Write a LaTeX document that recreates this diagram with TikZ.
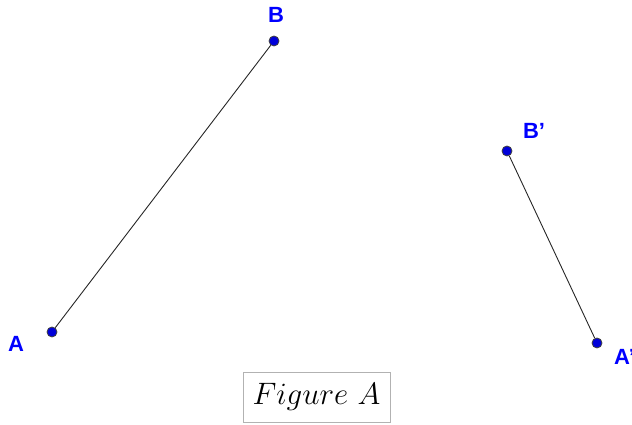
\RequirePackage{fix-cm}
\documentclass[tikz,border=0pt]{standalone}
\usepackage{amsmath}
\usepackage{amssymb}
\usepackage{fontspec}
\setsansfont{Liberation Sans}
\usepackage{tikz}
\usepackage{xcolor}

\begin{document}
\begin{tikzpicture}[x=1pt, y=1pt,
  pt/.style={circle, fill=blue!85!black, draw=black!75, line width=0.8pt, inner sep=0pt, minimum size=10pt},
  lbl/.style={text=blue, font=\sffamily\bfseries\fontsize{22}{24}\selectfont, inner sep=0pt}]
\clip (0,0) rectangle (632,425);
\node[pt] (A) at (52,93) {};
\node[pt] (B) at (274,384) {};
\node[pt] (Bp) at (507,274) {};
\node[pt] (Ap) at (597,82) {};
\draw[line width=0.9pt, black!85] (A) -- (B);
\draw[line width=0.9pt, black!85] (Bp) -- (Ap);
\node[lbl] (lA) at (16,81) {A};
\node[lbl] (lB) at (276,410) {B};
\node[lbl] (lBp) at (534,294) {B'};
\node[lbl] (lAp) at (624.5,68) {A'};
\node[rectangle, draw=black!30, line width=0.8pt, minimum width=147pt, minimum height=50pt, inner sep=0pt, font=\fontsize{31}{36}\selectfont] (cap) at (316.5,28) {$Figure\ A$};
\end{tikzpicture}
\end{document}
